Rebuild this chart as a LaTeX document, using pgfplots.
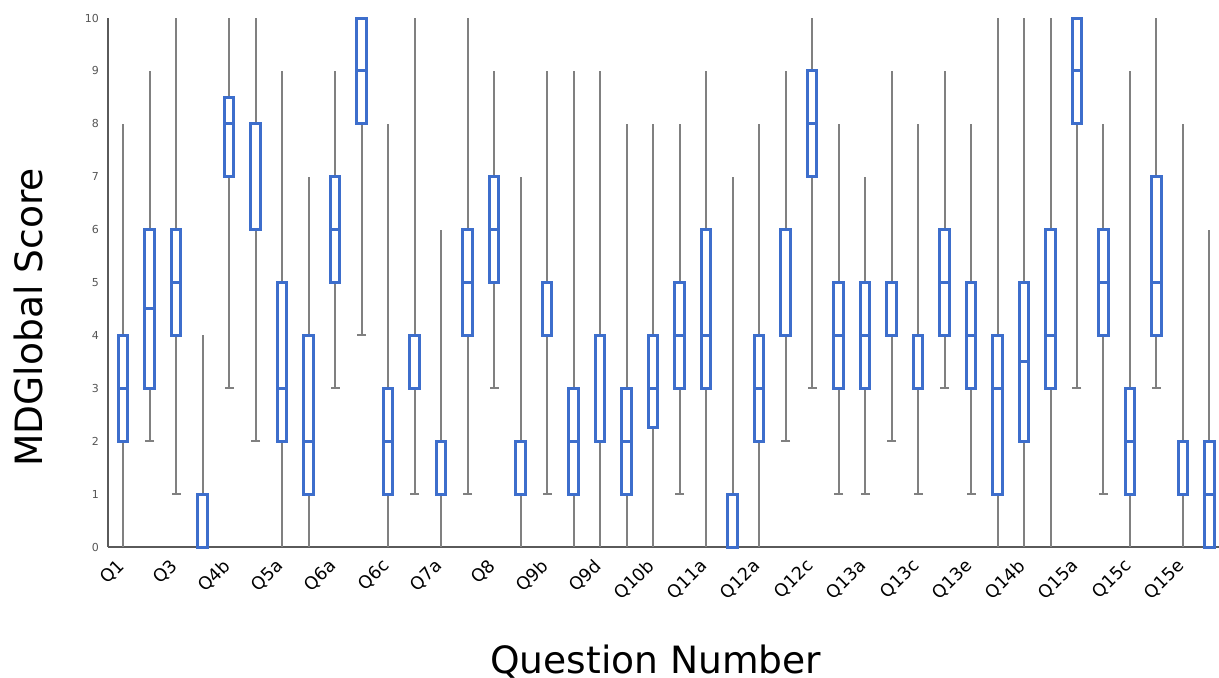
\documentclass[border=0pt]{standalone}
\usepackage{pgfplots}
\pgfplotsset{compat=1.18}
\usepgfplotslibrary{statistics}
\usepackage{fontspec}
\setmainfont{DejaVu Sans}
\definecolor{boxblue}{RGB}{61,110,204}
\definecolor{whiskgray}{RGB}{128,128,128}
\definecolor{axgray}{RGB}{90,90,90}
\definecolor{tickgray}{RGB}{85,85,85}
\newcommand{\bx}[6]{\addplot[draw=boxblue, line width=1.5pt, solid,
  boxplot prepared={draw position=#1, lower whisker=#2, lower quartile=#3,
  median=#4, upper quartile=#5, upper whisker=#6}] coordinates {};}
\begin{document}
\begin{tikzpicture}
\useasboundingbox (-54pt,-65pt) rectangle (555.5pt,273.5pt);
\begin{axis}[
  at={(0,0)}, anchor=south west,
  scale only axis, width=555.5pt, height=264.5pt,
  xmin=-0.57, xmax=41.36, ymin=0, ymax=10,
  clip=false,
  axis x line*=bottom, axis y line*=left,
  axis line style={draw=axgray, line width=0.6pt},
  major tick length=0pt,
  ytick={0,1,...,10},
  yticklabel style={font=\fontsize{5.5}{6}\selectfont, text=tickgray, xshift=-1pt},
  /pgf/number format/assume math mode=true,
  xtick={0,2,...,40},
  xticklabels={Q1,Q3,Q4b,Q5a,Q6a,Q6c,Q7a,Q8,Q9b,Q9d,Q10b,Q11a,Q12a,Q12c,Q13a,Q13c,Q13e,Q14b,Q15a,Q15c,Q15e},
  xticklabel style={font=\fontsize{8.8}{10}\selectfont, rotate=45, anchor=east, yshift=-5.1pt, xshift=-2.9pt},
  xlabel={Question Number},
  xlabel style={font=\fontsize{18.8}{20}\selectfont, at={(axis description cs:0.493,0)}, anchor=base, yshift=-63pt},
  ylabel={MDGlobal Score},
  ylabel style={font=\fontsize{18.8}{20}\selectfont, at={(axis description cs:0,0.434)}, anchor=base, yshift=32.5pt},
  boxplot/draw direction=y,
  boxplot/box extend=0.36,
  boxplot/whisker extend=0,
  boxplot/every whisker/.style={draw=whiskgray, line width=1pt},
  boxplot/every median/.style={draw=boxblue, line width=1.5pt},
]
\bx{0}{0}{2}{3}{4}{8}
\bx{1}{2}{3}{4.5}{6}{9}
\bx{2}{1}{4}{5}{6}{10}
\bx{3}{0}{0}{1}{1}{4}
\bx{4}{3}{7}{8}{8.5}{10}
\bx{5}{2}{6}{8}{8}{10}
\bx{6}{0}{2}{3}{5}{9}
\bx{7}{0}{1}{2}{4}{7}
\bx{8}{3}{5}{6}{7}{9}
\bx{9}{4}{8}{9}{10}{10}
\bx{10}{0}{1}{2}{3}{8}
\bx{11}{1}{3}{4}{4}{10}
\bx{12}{0}{1}{2}{2}{6}
\bx{13}{1}{4}{5}{6}{10}
\bx{14}{3}{5}{6}{7}{9}
\bx{15}{0}{1}{2}{2}{7}
\bx{16}{1}{4}{5}{5}{9}
\bx{17}{0}{1}{2}{3}{9}
\bx{18}{0}{2}{4}{4}{9}
\bx{19}{0}{1}{2}{3}{8}
\bx{20}{0}{2.25}{3}{4}{8}
\bx{21}{1}{3}{4}{5}{8}
\bx{22}{0}{3}{4}{6}{9}
\bx{23}{0}{0}{1}{1}{7}
\bx{24}{0}{2}{3}{4}{8}
\bx{25}{2}{4}{6}{6}{9}
\bx{26}{3}{7}{8}{9}{10}
\bx{27}{1}{3}{4}{5}{8}
\bx{28}{1}{3}{4}{5}{7}
\bx{29}{2}{4}{5}{5}{9}
\bx{30}{1}{3}{4}{4}{8}
\bx{31}{3}{4}{5}{6}{9}
\bx{32}{1}{3}{4}{5}{8}
\bx{33}{0}{1}{3}{4}{10}
\bx{34}{0}{2}{3.5}{5}{10}
\bx{35}{0}{3}{4}{6}{10}
\bx{36}{3}{8}{9}{10}{10}
\bx{37}{1}{4}{5}{6}{8}
\bx{38}{0}{1}{2}{3}{9}
\bx{39}{3}{4}{5}{7}{10}
\bx{40}{0}{1}{2}{2}{8}
\bx{41}{0}{0}{1}{2}{6}
\addplot[only marks, mark=-, mark size=2.25pt, mark options={draw=whiskgray, line width=1pt}] coordinates {
(1,2) (2,1) (4,3) (5,2) (8,3) (9,4) (11,1) (13,1) (14,3) (16,1) (21,1)
(25,2) (26,3) (27,1) (28,1) (29,2) (30,1) (31,3) (32,1) (36,3) (37,1) (39,3)};
\end{axis}
\end{tikzpicture}
\end{document}
